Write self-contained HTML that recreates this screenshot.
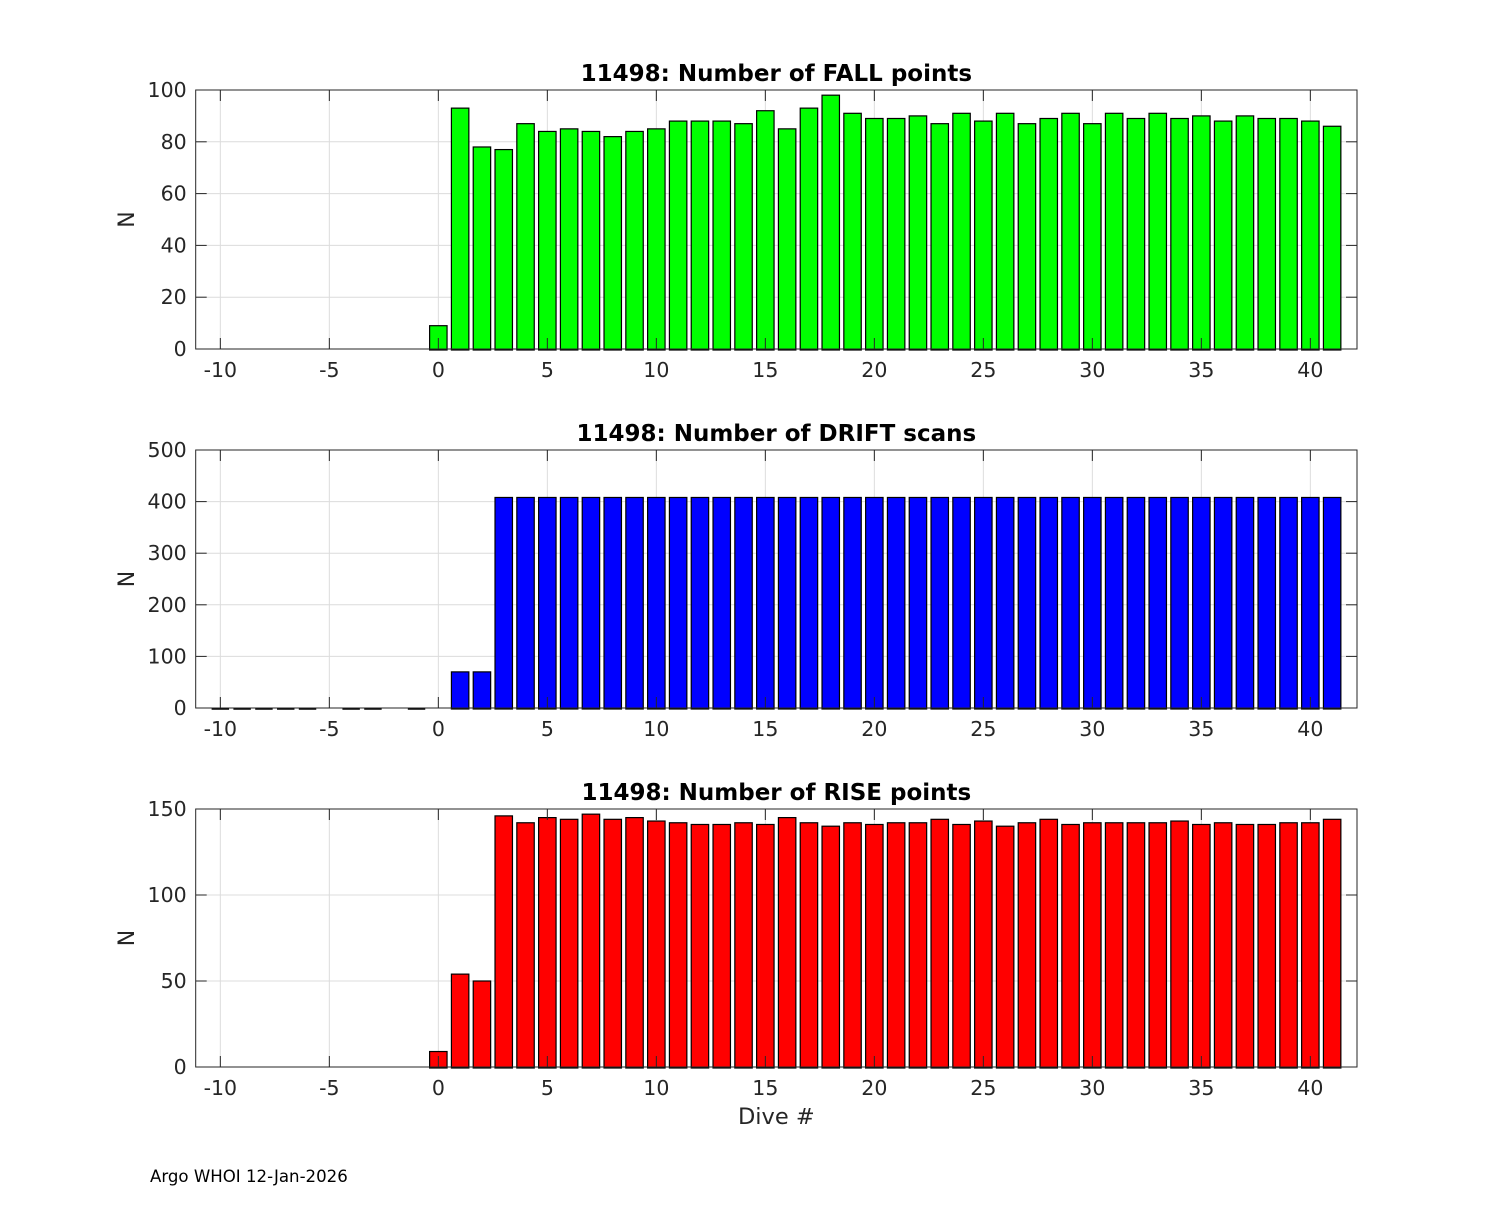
<!DOCTYPE html>
<html><head><meta charset="utf-8"><style>
body{margin:0;background:#fff;}
svg text{font-family:"DejaVu Sans","Liberation Sans",sans-serif;}
</style></head><body>
<svg id="fig" width="1500" height="1200" xmlns="http://www.w3.org/2000/svg">
<rect width="1500" height="1200" fill="#fff"/>
<text x="150" y="1182" font-size="16.6" fill="#000">Argo WHOI 12-Jan-2026</text>
</svg>
<script>
const fallDives=[0,1,2,3,4,5,6,7,8,9,10,11,12,13,14,15,16,17,18,19,20,21,22,23,24,25,26,27,28,29,30,31,32,33,34,35,36,37,38,39,40,41];
const fallValues=[9,93,78,77,87,84,85,84,82,84,85,88,88,88,87,92,85,93,98,91,89,89,90,87,91,88,91,87,89,91,87,91,89,91,89,90,88,90,89,89,88,86];
const driftDives=[-10,-9,-8,-7,-6,-4,-3,-1,1,2,3,4,5,6,7,8,9,10,11,12,13,14,15,16,17,18,19,20,21,22,23,24,25,26,27,28,29,30,31,32,33,34,35,36,37,38,39,40,41];
const driftValues=[0,0,0,0,0,0,0,0,70,70,408,408,408,408,408,408,408,408,408,408,408,408,408,408,408,408,408,408,408,408,408,408,408,408,408,408,408,408,408,408,408,408,408,408,408,408,408,408,408];
const riseDives=fallDives;
const riseValues=[9,54,50,146,142,145,144,147,144,145,143,142,141,141,142,141,145,142,140,142,141,142,142,144,141,143,140,142,144,141,142,142,142,142,143,141,142,141,141,142,142,144];
const xTicks=[-10,-5,0,5,10,15,20,25,30,35,40];
const fallYTicks=[0,20,40,60,80,100];
const driftYTicks=[0,100,200,300,400,500];
const riseYTicks=[0,50,100,150];

const NS="http://www.w3.org/2000/svg";
const svg=document.getElementById('fig');
const X0=195.7,X1=1357,XMIN=-11.13,XMAX=42.14;
function xs(v){return X0+(v-XMIN)/(XMAX-XMIN)*(X1-X0);}
function mk(t,a,p){const e=document.createElementNS(NS,t);for(const k in a)e.setAttribute(k,a[k]);(p||svg).appendChild(e);return e;}

function panel(name,top,bot,ymax,yt,dives,vals,color,title,xlabel){
  const g=mk('g',{});
  
  
  const ys=v=>bot-(v/ymax)*(bot-top);
  xTicks.forEach(t=>{const l=mk('line',{x1:xs(t),x2:xs(t),y1:top,y2:bot,stroke:'#dcdcdc','stroke-width':1},g);
    });
  yt.forEach(t=>{const l=mk('line',{x1:X0,x2:X1,y1:ys(t),y2:ys(t),stroke:'#dcdcdc','stroke-width':1},g);
    });
  const bw=(0.8/(XMAX-XMIN))*(X1-X0);
  dives.forEach((d,i)=>{
    const v=vals[i];
    if(v===0){const l=mk('line',{x1:xs(d)-bw/2,x2:xs(d)+bw/2,y1:bot+1,y2:bot+1,stroke:'#000','stroke-width':1.4},g);
      return;}
    const r=mk('rect',{x:xs(d)-bw/2,y:ys(v),width:bw,height:bot-ys(v)+1,fill:color,stroke:'#000','stroke-width':1.2},g);
    
    
  });
  const b=mk('rect',{x:X0,y:top,width:X1-X0,height:bot-top,fill:'none',stroke:'#262626','stroke-width':1},g);
  
  xTicks.forEach(t=>{
    mk('line',{x1:xs(t),x2:xs(t),y1:bot,y2:bot-11,stroke:'#262626'},g);
    mk('line',{x1:xs(t),x2:xs(t),y1:top,y2:top+11,stroke:'#262626'},g);
    const tx=mk('text',{x:xs(t),y:bot+28,'font-size':20.5,'text-anchor':'middle',fill:'#262626'},g);tx.textContent=t;
    
  });
  yt.forEach(t=>{
    mk('line',{x1:X0,x2:X0+11,y1:ys(t),y2:ys(t),stroke:'#262626'},g);
    mk('line',{x1:X1,x2:X1-11,y1:ys(t),y2:ys(t),stroke:'#262626'},g);
    const tx=mk('text',{x:X0-9,y:ys(t)+7,'font-size':20.5,'text-anchor':'end',fill:'#262626'},g);tx.textContent=t;
    
  });
  const tt=mk('text',{x:(X0+X1)/2,y:top-9,'font-size':23,'font-weight':'bold','text-anchor':'middle',fill:'#000'},g);tt.textContent=title;
  
  const yl=mk('text',{x:0,y:0,'font-size':22,'text-anchor':'middle',fill:'#262626',transform:`translate(134,${(top+bot)/2}) rotate(-90)`},g);yl.textContent='N';
  
  if(xlabel){const xl=mk('text',{x:(X0+X1)/2,y:bot+57,'font-size':22.5,'text-anchor':'middle',fill:'#262626'},g);xl.textContent=xlabel;
    }
}
panel('fall',90,349,100,fallYTicks,fallDives,fallValues,'#00ff00','11498: Number of FALL points');
panel('drift',450,708,500,driftYTicks,driftDives,driftValues,'#0000ff','11498: Number of DRIFT scans');
panel('rise',809,1067,150,riseYTicks,riseDives,riseValues,'#ff0000','11498: Number of RISE points','Dive #');
</script>
</body></html>
